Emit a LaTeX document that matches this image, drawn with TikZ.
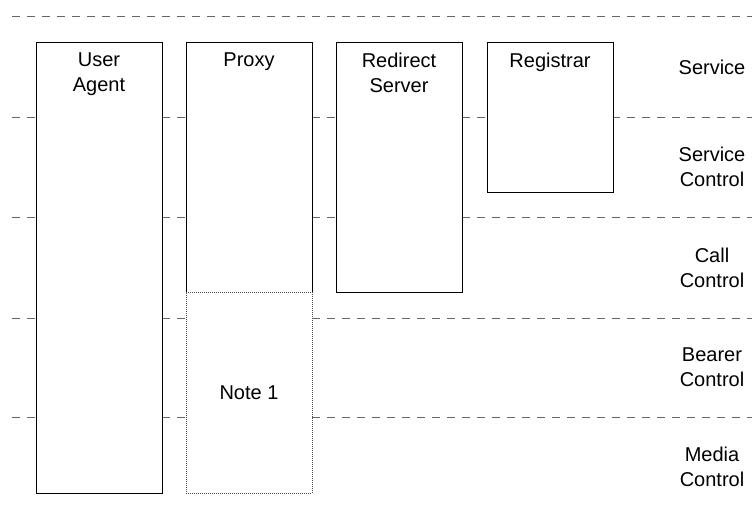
\documentclass[tikz,border=0pt]{standalone}
\usepackage{fontspec}
\setmainfont{Liberation Sans}
\begin{document}
\begin{tikzpicture}[x=1pt,y=-1pt,
  every node/.style={font=\fontsize{20}{25}\selectfont},
  layerline/.style={draw=black!60, line width=0.9pt, dash pattern=on 8pt off 7pt},
  entity/.style={draw=black, line width=0.8pt, fill=white, minimum width=126pt, inner sep=0pt, outer sep=0pt},
  openentity/.style={draw=none, fill=white, minimum width=126pt, inner sep=0pt, outer sep=0pt},
  edge/.style={draw=black, line width=0.8pt},
  boxlabel/.style={anchor=north, align=center, inner sep=0pt, yshift=-11pt},
  layerlabel/.style={align=center, inner sep=0pt},
  notebox/.style={draw=black!70, line width=0.7pt, dash pattern=on 1pt off 1pt, fill=white, minimum width=126pt, inner sep=0pt, outer sep=0pt}]
\useasboundingbox (0,0) rectangle (752,516);
% layer separators
\foreach \yy in {16,117,217,318,417} {
  \coordinate (l\yy) at (12,\yy);
  \coordinate (r\yy) at (752,\yy);
  \draw[layerline] (l\yy) -- (r\yy);
}
% entities
\node[entity, minimum height=451pt] (ua) at (99,267.5) {};
\node[boxlabel] (ualabel) at (ua.north) {User\\Agent};

\node[openentity, minimum height=250pt] (proxy) at (249,167) {};
\draw[edge] (proxy.south west) -- (proxy.north west) -- (proxy.north east) -- (proxy.south east);
\node[boxlabel] (proxylabel) at (proxy.north) {Proxy};
\node[notebox, minimum height=201pt] (note) at (249,392.5) {Note 1};

\node[entity, minimum height=250pt] (redirect) at (399,167) {};
\node[boxlabel] (redirectlabel) at (redirect.north) {Redirect\\Server};

\node[entity, minimum height=150pt] (registrar) at (550,117) {};
\node[boxlabel] (registrarlabel) at (registrar.north) {Registrar};

% layer labels
\node[layerlabel] (service) at (712,67) {Service};
\node[layerlabel] (servicecontrol) at (712,167) {Service\\Control};
\node[layerlabel] (callcontrol) at (712,267.5) {Call\\Control};
\node[layerlabel] (bearercontrol) at (712,367.5) {Bearer\\Control};
\node[layerlabel] (mediacontrol) at (712,467) {Media\\Control};
\end{tikzpicture}
\end{document}
